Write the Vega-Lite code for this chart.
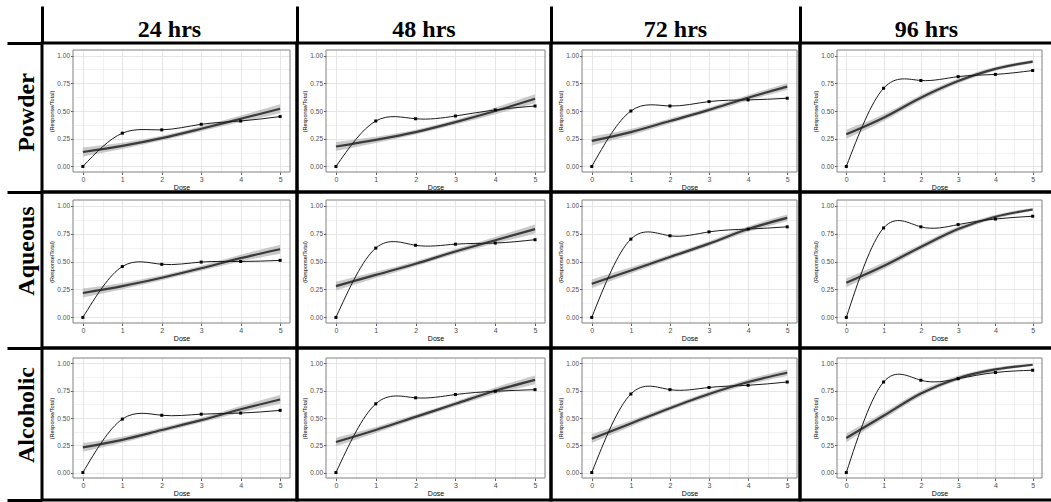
{
"$schema":"https://vega.github.io/schema/vega-lite/v6.json",
"padding":{"left":7,"top":6,"right":0,"bottom":0},
"background":"white",
"columns":5,"spacing":0,"align":"each","bounds":"flush",
"datasets":{"d":[
{"prep":"Powder","time":"24 hrs","dose":0,"p":0,"fit":0.13,"lo":0.09,"hi":0.17},
{"prep":"Powder","time":"24 hrs","dose":1,"p":0.30,"fit":0.185,"lo":0.157,"hi":0.213},
{"prep":"Powder","time":"24 hrs","dose":2,"p":0.33,"fit":0.255,"lo":0.233,"hi":0.277},
{"prep":"Powder","time":"24 hrs","dose":3,"p":0.38,"fit":0.34,"lo":0.318,"hi":0.362},
{"prep":"Powder","time":"24 hrs","dose":4,"p":0.41,"fit":0.43,"lo":0.40,"hi":0.46},
{"prep":"Powder","time":"24 hrs","dose":5,"p":0.45,"fit":0.52,"lo":0.48,"hi":0.56},
{"prep":"Powder","time":"48 hrs","dose":0,"p":0,"fit":0.18,"lo":0.14,"hi":0.22},
{"prep":"Powder","time":"48 hrs","dose":1,"p":0.41,"fit":0.24,"lo":0.212,"hi":0.268},
{"prep":"Powder","time":"48 hrs","dose":2,"p":0.43,"fit":0.31,"lo":0.288,"hi":0.332},
{"prep":"Powder","time":"48 hrs","dose":3,"p":0.455,"fit":0.40,"lo":0.378,"hi":0.422},
{"prep":"Powder","time":"48 hrs","dose":4,"p":0.51,"fit":0.50,"lo":0.47,"hi":0.53},
{"prep":"Powder","time":"48 hrs","dose":5,"p":0.545,"fit":0.61,"lo":0.57,"hi":0.65},
{"prep":"Powder","time":"72 hrs","dose":0,"p":0,"fit":0.23,"lo":0.19,"hi":0.27},
{"prep":"Powder","time":"72 hrs","dose":1,"p":0.50,"fit":0.31,"lo":0.282,"hi":0.338},
{"prep":"Powder","time":"72 hrs","dose":2,"p":0.545,"fit":0.41,"lo":0.388,"hi":0.432},
{"prep":"Powder","time":"72 hrs","dose":3,"p":0.585,"fit":0.51,"lo":0.488,"hi":0.532},
{"prep":"Powder","time":"72 hrs","dose":4,"p":0.60,"fit":0.62,"lo":0.595,"hi":0.645},
{"prep":"Powder","time":"72 hrs","dose":5,"p":0.615,"fit":0.72,"lo":0.69,"hi":0.75},
{"prep":"Powder","time":"96 hrs","dose":0,"p":0,"fit":0.29,"lo":0.25,"hi":0.33},
{"prep":"Powder","time":"96 hrs","dose":1,"p":0.705,"fit":0.44,"lo":0.41,"hi":0.47},
{"prep":"Powder","time":"96 hrs","dose":2,"p":0.775,"fit":0.62,"lo":0.595,"hi":0.645},
{"prep":"Powder","time":"96 hrs","dose":3,"p":0.81,"fit":0.77,"lo":0.748,"hi":0.792},
{"prep":"Powder","time":"96 hrs","dose":4,"p":0.83,"fit":0.88,"lo":0.862,"hi":0.898},
{"prep":"Powder","time":"96 hrs","dose":5,"p":0.865,"fit":0.945,"lo":0.931,"hi":0.959},
{"prep":"Aqueous","time":"24 hrs","dose":0,"p":0,"fit":0.218,"lo":0.178,"hi":0.258},
{"prep":"Aqueous","time":"24 hrs","dose":1,"p":0.455,"fit":0.28,"lo":0.252,"hi":0.308},
{"prep":"Aqueous","time":"24 hrs","dose":2,"p":0.475,"fit":0.355,"lo":0.333,"hi":0.377},
{"prep":"Aqueous","time":"24 hrs","dose":3,"p":0.495,"fit":0.44,"lo":0.418,"hi":0.462},
{"prep":"Aqueous","time":"24 hrs","dose":4,"p":0.50,"fit":0.53,"lo":0.50,"hi":0.56},
{"prep":"Aqueous","time":"24 hrs","dose":5,"p":0.51,"fit":0.61,"lo":0.57,"hi":0.65},
{"prep":"Aqueous","time":"48 hrs","dose":0,"p":0,"fit":0.28,"lo":0.24,"hi":0.32},
{"prep":"Aqueous","time":"48 hrs","dose":1,"p":0.62,"fit":0.38,"lo":0.352,"hi":0.408},
{"prep":"Aqueous","time":"48 hrs","dose":2,"p":0.645,"fit":0.48,"lo":0.458,"hi":0.502},
{"prep":"Aqueous","time":"48 hrs","dose":3,"p":0.655,"fit":0.59,"lo":0.568,"hi":0.612},
{"prep":"Aqueous","time":"48 hrs","dose":4,"p":0.665,"fit":0.69,"lo":0.66,"hi":0.72},
{"prep":"Aqueous","time":"48 hrs","dose":5,"p":0.695,"fit":0.79,"lo":0.75,"hi":0.83},
{"prep":"Aqueous","time":"72 hrs","dose":0,"p":0,"fit":0.30,"lo":0.26,"hi":0.34},
{"prep":"Aqueous","time":"72 hrs","dose":1,"p":0.70,"fit":0.42,"lo":0.392,"hi":0.448},
{"prep":"Aqueous","time":"72 hrs","dose":2,"p":0.73,"fit":0.54,"lo":0.518,"hi":0.562},
{"prep":"Aqueous","time":"72 hrs","dose":3,"p":0.765,"fit":0.66,"lo":0.638,"hi":0.682},
{"prep":"Aqueous","time":"72 hrs","dose":4,"p":0.79,"fit":0.79,"lo":0.765,"hi":0.815},
{"prep":"Aqueous","time":"72 hrs","dose":5,"p":0.81,"fit":0.89,"lo":0.86,"hi":0.92},
{"prep":"Aqueous","time":"96 hrs","dose":0,"p":0,"fit":0.31,"lo":0.27,"hi":0.35},
{"prep":"Aqueous","time":"96 hrs","dose":1,"p":0.80,"fit":0.46,"lo":0.43,"hi":0.49},
{"prep":"Aqueous","time":"96 hrs","dose":2,"p":0.81,"fit":0.63,"lo":0.605,"hi":0.655},
{"prep":"Aqueous","time":"96 hrs","dose":3,"p":0.83,"fit":0.79,"lo":0.768,"hi":0.812},
{"prep":"Aqueous","time":"96 hrs","dose":4,"p":0.88,"fit":0.90,"lo":0.882,"hi":0.918},
{"prep":"Aqueous","time":"96 hrs","dose":5,"p":0.905,"fit":0.965,"lo":0.951,"hi":0.979},
{"prep":"Alcoholic","time":"24 hrs","dose":0,"p":0,"fit":0.23,"lo":0.19,"hi":0.27},
{"prep":"Alcoholic","time":"24 hrs","dose":1,"p":0.49,"fit":0.30,"lo":0.272,"hi":0.328},
{"prep":"Alcoholic","time":"24 hrs","dose":2,"p":0.525,"fit":0.39,"lo":0.368,"hi":0.412},
{"prep":"Alcoholic","time":"24 hrs","dose":3,"p":0.535,"fit":0.48,"lo":0.458,"hi":0.502},
{"prep":"Alcoholic","time":"24 hrs","dose":4,"p":0.545,"fit":0.58,"lo":0.55,"hi":0.61},
{"prep":"Alcoholic","time":"24 hrs","dose":5,"p":0.57,"fit":0.67,"lo":0.63,"hi":0.71},
{"prep":"Alcoholic","time":"48 hrs","dose":0,"p":0,"fit":0.28,"lo":0.24,"hi":0.32},
{"prep":"Alcoholic","time":"48 hrs","dose":1,"p":0.63,"fit":0.39,"lo":0.362,"hi":0.418},
{"prep":"Alcoholic","time":"48 hrs","dose":2,"p":0.685,"fit":0.51,"lo":0.488,"hi":0.532},
{"prep":"Alcoholic","time":"48 hrs","dose":3,"p":0.715,"fit":0.63,"lo":0.608,"hi":0.652},
{"prep":"Alcoholic","time":"48 hrs","dose":4,"p":0.745,"fit":0.75,"lo":0.72,"hi":0.78},
{"prep":"Alcoholic","time":"48 hrs","dose":5,"p":0.76,"fit":0.85,"lo":0.81,"hi":0.89},
{"prep":"Alcoholic","time":"72 hrs","dose":0,"p":0,"fit":0.31,"lo":0.27,"hi":0.35},
{"prep":"Alcoholic","time":"72 hrs","dose":1,"p":0.72,"fit":0.45,"lo":0.422,"hi":0.478},
{"prep":"Alcoholic","time":"72 hrs","dose":2,"p":0.76,"fit":0.59,"lo":0.568,"hi":0.612},
{"prep":"Alcoholic","time":"72 hrs","dose":3,"p":0.78,"fit":0.72,"lo":0.698,"hi":0.742},
{"prep":"Alcoholic","time":"72 hrs","dose":4,"p":0.80,"fit":0.83,"lo":0.805,"hi":0.855},
{"prep":"Alcoholic","time":"72 hrs","dose":5,"p":0.83,"fit":0.915,"lo":0.885,"hi":0.945},
{"prep":"Alcoholic","time":"96 hrs","dose":0,"p":0,"fit":0.317,"lo":0.277,"hi":0.357},
{"prep":"Alcoholic","time":"96 hrs","dose":1,"p":0.83,"fit":0.52,"lo":0.49,"hi":0.55},
{"prep":"Alcoholic","time":"96 hrs","dose":2,"p":0.846,"fit":0.725,"lo":0.70,"hi":0.75},
{"prep":"Alcoholic","time":"96 hrs","dose":3,"p":0.86,"fit":0.865,"lo":0.843,"hi":0.887},
{"prep":"Alcoholic","time":"96 hrs","dose":4,"p":0.917,"fit":0.945,"lo":0.927,"hi":0.963},
{"prep":"Alcoholic","time":"96 hrs","dose":5,"p":0.938,"fit":0.988,"lo":0.976,"hi":0.998}
]},
"concat":[
{"width":35,"height":37,"data":{"values":[{"t":"c"}]},"mark":{"type":"text","text":""},"encoding":{"x":{"field":"t","type":"nominal","axis":{"orient":"bottom","domain":true,"domainColor":"#000000","domainWidth":3,"ticks":false,"labels":false,"title":null,"grid":false}}}},
{"width":255,"height":37,"data":{"values":[{"t":"24 hrs"}]},"mark":{"type":"text","font":"Liberation Serif","fontSize":24,"fontWeight":"bold","color":"#000000","baseline":"alphabetic","dy":12.5},"encoding":{"text":{"field":"t"},"y":{"field":"t","type":"nominal","axis":{"orient":"left","domain":true,"domainColor":"#000000","domainWidth":3,"ticks":false,"labels":false,"title":null,"grid":false}}}},
{"width":254,"height":37,"data":{"values":[{"t":"48 hrs"}]},"mark":{"type":"text","font":"Liberation Serif","fontSize":24,"fontWeight":"bold","color":"#000000","baseline":"alphabetic","dy":12.5},"encoding":{"text":{"field":"t"},"y":{"field":"t","type":"nominal","axis":{"orient":"left","domain":true,"domainColor":"#000000","domainWidth":3,"ticks":false,"labels":false,"title":null,"grid":false}}}},
{"width":249,"height":37,"data":{"values":[{"t":"72 hrs"}]},"mark":{"type":"text","font":"Liberation Serif","fontSize":24,"fontWeight":"bold","color":"#000000","baseline":"alphabetic","dy":12.5},"encoding":{"text":{"field":"t"},"y":{"field":"t","type":"nominal","axis":{"orient":"left","domain":true,"domainColor":"#000000","domainWidth":3,"ticks":false,"labels":false,"title":null,"grid":false}}}},
{"width":253,"height":37,"data":{"values":[{"t":"96 hrs"}]},"mark":{"type":"text","font":"Liberation Serif","fontSize":24,"fontWeight":"bold","color":"#000000","baseline":"alphabetic","dy":12.5},"encoding":{"text":{"field":"t"},"y":{"field":"t","type":"nominal","axis":{"orient":"left","domain":true,"domainColor":"#000000","domainWidth":3,"ticks":false,"labels":false,"title":null,"grid":false}}}},

{"width":35,"height":149,"data":{"values":[{"t":"Powder"}]},"mark":{"type":"text","angle":270,"font":"Liberation Serif","fontSize":24,"fontWeight":"bold","color":"#000000","baseline":"middle","dx":5,"dy":2},"encoding":{"text":{"field":"t"},"x":{"field":"t","type":"nominal","axis":{"orient":"bottom","domain":true,"domainColor":"#000000","domainWidth":3,"ticks":false,"labels":false,"title":null,"grid":false}}}},
{"width":255,"height":149,"view":{"stroke":"black","strokeWidth":3},"data":{"name":"d"},"transform":[{"filter":"datum.prep==='Powder'&&datum.time==='24 hrs'"}],"resolve":{"axis":{"x":"independent","y":"independent"}},"layer":[
{"mark":{"type":"area","interpolate":"monotone","color":"#b4b4b4","opacity":0.7},"encoding":{"x":{"field":"dose","type":"quantitative","scale":{"domain":[-0.25,5.25],"range":[31,248],"nice":false,"zero":false},"axis":{"orient":"bottom","offset":-20,"values":[0,1,2,3,4,5],"grid":false,"domain":false,"tickSize":2.5,"tickColor":"#333333","tickWidth":0.8,"labelFontSize":7,"labelColor":"#4d4d4d","labelPadding":1,"labelFlush":false,"labelOverlap":false,"title":"Dose","titleFontSize":7,"titleFontWeight":"normal","titleColor":"#000000","titlePadding":1}},"y":{"field":"lo","type":"quantitative","scale":{"domain":[-0.05,1.05],"range":[129,7],"nice":false,"zero":false},"axis":{"orient":"left","offset":-31,"values":[0,0.125,0.25,0.375,0.5,0.625,0.75,0.875,1],"grid":true,"gridColor":"#e3e3e3","gridWidth":{"condition":{"test":"(datum.value*8)%2!==0","value":0.5},"value":0.9},"domain":false,"tickSize":2.5,"tickColor":"#333333","tickWidth":0.8,"tickOpacity":{"condition":{"test":"(datum.value*8)%2!==0","value":0},"value":1},"labelExpr":"(datum.value*8)%2===0?format(datum.value,'.2f'):''","labelFontSize":6.5,"labelColor":"#4d4d4d","labelPadding":1,"labelFlush":false,"labelOverlap":false,"title":"(Response/Total)","titleFontSize":5.5,"titleFontWeight":"normal","titleColor":"#000000","titlePadding":2}},"y2":{"field":"hi"}}},
{"mark":{"type":"line","interpolate":"monotone","color":"#3a3a3a","strokeWidth":2.2},"encoding":{"x":{"field":"dose","type":"quantitative","axis":{"orient":"top","values":[0,0.5,1,1.5,2,2.5,3,3.5,4,4.5,5],"grid":true,"gridColor":"#e3e3e3","gridWidth":{"condition":{"test":"datum.value%1!==0","value":0.5},"value":0.9},"domain":false,"ticks":false,"labels":false,"title":null}},"y":{"field":"fit","type":"quantitative","axis":null}}},
{"mark":{"type":"line","interpolate":"natural","color":"#1a1a1a","strokeWidth":1},"encoding":{"x":{"field":"dose","type":"quantitative","axis":null},"y":{"field":"p","type":"quantitative","axis":null}}},
{"mark":{"type":"point","shape":"square","filled":true,"size":9,"color":"#000000","opacity":1},"encoding":{"x":{"field":"dose","type":"quantitative","axis":null},"y":{"field":"p","type":"quantitative","axis":null}}},
{"data":{"values":[{}]},"mark":{"type":"rect","filled":false,"color":"#808080","strokeWidth":1},"encoding":{"x":{"datum":-0.25,"type":"quantitative","axis":null},"x2":{"datum":5.25},"y":{"datum":-0.05,"type":"quantitative","axis":null},"y2":{"datum":1.05}}}
]},
{"width":254,"height":149,"view":{"stroke":"black","strokeWidth":3},"data":{"name":"d"},"transform":[{"filter":"datum.prep==='Powder'&&datum.time==='48 hrs'"}],"resolve":{"axis":{"x":"independent","y":"independent"}},"layer":[
{"mark":{"type":"area","interpolate":"monotone","color":"#b4b4b4","opacity":0.7},"encoding":{"x":{"field":"dose","type":"quantitative","scale":{"domain":[-0.25,5.25],"range":[29,248],"nice":false,"zero":false},"axis":{"orient":"bottom","offset":-20,"values":[0,1,2,3,4,5],"grid":false,"domain":false,"tickSize":2.5,"tickColor":"#333333","tickWidth":0.8,"labelFontSize":7,"labelColor":"#4d4d4d","labelPadding":1,"labelFlush":false,"labelOverlap":false,"title":"Dose","titleFontSize":7,"titleFontWeight":"normal","titleColor":"#000000","titlePadding":1}},"y":{"field":"lo","type":"quantitative","scale":{"domain":[-0.05,1.05],"range":[129,7],"nice":false,"zero":false},"axis":{"orient":"left","offset":-29,"values":[0,0.125,0.25,0.375,0.5,0.625,0.75,0.875,1],"grid":true,"gridColor":"#e3e3e3","gridWidth":{"condition":{"test":"(datum.value*8)%2!==0","value":0.5},"value":0.9},"domain":false,"tickSize":2.5,"tickColor":"#333333","tickWidth":0.8,"tickOpacity":{"condition":{"test":"(datum.value*8)%2!==0","value":0},"value":1},"labelExpr":"(datum.value*8)%2===0?format(datum.value,'.2f'):''","labelFontSize":6.5,"labelColor":"#4d4d4d","labelPadding":1,"labelFlush":false,"labelOverlap":false,"title":"(Response/Total)","titleFontSize":5.5,"titleFontWeight":"normal","titleColor":"#000000","titlePadding":2}},"y2":{"field":"hi"}}},
{"mark":{"type":"line","interpolate":"monotone","color":"#3a3a3a","strokeWidth":2.2},"encoding":{"x":{"field":"dose","type":"quantitative","axis":{"orient":"top","values":[0,0.5,1,1.5,2,2.5,3,3.5,4,4.5,5],"grid":true,"gridColor":"#e3e3e3","gridWidth":{"condition":{"test":"datum.value%1!==0","value":0.5},"value":0.9},"domain":false,"ticks":false,"labels":false,"title":null}},"y":{"field":"fit","type":"quantitative","axis":null}}},
{"mark":{"type":"line","interpolate":"natural","color":"#1a1a1a","strokeWidth":1},"encoding":{"x":{"field":"dose","type":"quantitative","axis":null},"y":{"field":"p","type":"quantitative","axis":null}}},
{"mark":{"type":"point","shape":"square","filled":true,"size":9,"color":"#000000","opacity":1},"encoding":{"x":{"field":"dose","type":"quantitative","axis":null},"y":{"field":"p","type":"quantitative","axis":null}}},
{"data":{"values":[{}]},"mark":{"type":"rect","filled":false,"color":"#808080","strokeWidth":1},"encoding":{"x":{"datum":-0.25,"type":"quantitative","axis":null},"x2":{"datum":5.25},"y":{"datum":-0.05,"type":"quantitative","axis":null},"y2":{"datum":1.05}}}
]},
{"width":249,"height":149,"view":{"stroke":"black","strokeWidth":3},"data":{"name":"d"},"transform":[{"filter":"datum.prep==='Powder'&&datum.time==='72 hrs'"}],"resolve":{"axis":{"x":"independent","y":"independent"}},"layer":[
{"mark":{"type":"area","interpolate":"monotone","color":"#b4b4b4","opacity":0.7},"encoding":{"x":{"field":"dose","type":"quantitative","scale":{"domain":[-0.25,5.25],"range":[31,246],"nice":false,"zero":false},"axis":{"orient":"bottom","offset":-20,"values":[0,1,2,3,4,5],"grid":false,"domain":false,"tickSize":2.5,"tickColor":"#333333","tickWidth":0.8,"labelFontSize":7,"labelColor":"#4d4d4d","labelPadding":1,"labelFlush":false,"labelOverlap":false,"title":"Dose","titleFontSize":7,"titleFontWeight":"normal","titleColor":"#000000","titlePadding":1}},"y":{"field":"lo","type":"quantitative","scale":{"domain":[-0.05,1.05],"range":[129,7],"nice":false,"zero":false},"axis":{"orient":"left","offset":-31,"values":[0,0.125,0.25,0.375,0.5,0.625,0.75,0.875,1],"grid":true,"gridColor":"#e3e3e3","gridWidth":{"condition":{"test":"(datum.value*8)%2!==0","value":0.5},"value":0.9},"domain":false,"tickSize":2.5,"tickColor":"#333333","tickWidth":0.8,"tickOpacity":{"condition":{"test":"(datum.value*8)%2!==0","value":0},"value":1},"labelExpr":"(datum.value*8)%2===0?format(datum.value,'.2f'):''","labelFontSize":6.5,"labelColor":"#4d4d4d","labelPadding":1,"labelFlush":false,"labelOverlap":false,"title":"(Response/Total)","titleFontSize":5.5,"titleFontWeight":"normal","titleColor":"#000000","titlePadding":2}},"y2":{"field":"hi"}}},
{"mark":{"type":"line","interpolate":"monotone","color":"#3a3a3a","strokeWidth":2.2},"encoding":{"x":{"field":"dose","type":"quantitative","axis":{"orient":"top","values":[0,0.5,1,1.5,2,2.5,3,3.5,4,4.5,5],"grid":true,"gridColor":"#e3e3e3","gridWidth":{"condition":{"test":"datum.value%1!==0","value":0.5},"value":0.9},"domain":false,"ticks":false,"labels":false,"title":null}},"y":{"field":"fit","type":"quantitative","axis":null}}},
{"mark":{"type":"line","interpolate":"natural","color":"#1a1a1a","strokeWidth":1},"encoding":{"x":{"field":"dose","type":"quantitative","axis":null},"y":{"field":"p","type":"quantitative","axis":null}}},
{"mark":{"type":"point","shape":"square","filled":true,"size":9,"color":"#000000","opacity":1},"encoding":{"x":{"field":"dose","type":"quantitative","axis":null},"y":{"field":"p","type":"quantitative","axis":null}}},
{"data":{"values":[{}]},"mark":{"type":"rect","filled":false,"color":"#808080","strokeWidth":1},"encoding":{"x":{"datum":-0.25,"type":"quantitative","axis":null},"x2":{"datum":5.25},"y":{"datum":-0.05,"type":"quantitative","axis":null},"y2":{"datum":1.05}}}
]},
{"width":253,"height":149,"view":{"stroke":"black","strokeWidth":3},"data":{"name":"d"},"transform":[{"filter":"datum.prep==='Powder'&&datum.time==='96 hrs'"}],"resolve":{"axis":{"x":"independent","y":"independent"}},"layer":[
{"mark":{"type":"area","interpolate":"monotone","color":"#b4b4b4","opacity":0.7},"encoding":{"x":{"field":"dose","type":"quantitative","scale":{"domain":[-0.25,5.25],"range":[37,242],"nice":false,"zero":false},"axis":{"orient":"bottom","offset":-20,"values":[0,1,2,3,4,5],"grid":false,"domain":false,"tickSize":2.5,"tickColor":"#333333","tickWidth":0.8,"labelFontSize":7,"labelColor":"#4d4d4d","labelPadding":1,"labelFlush":false,"labelOverlap":false,"title":"Dose","titleFontSize":7,"titleFontWeight":"normal","titleColor":"#000000","titlePadding":1}},"y":{"field":"lo","type":"quantitative","scale":{"domain":[-0.05,1.05],"range":[129,7],"nice":false,"zero":false},"axis":{"orient":"left","offset":-37,"values":[0,0.125,0.25,0.375,0.5,0.625,0.75,0.875,1],"grid":true,"gridColor":"#e3e3e3","gridWidth":{"condition":{"test":"(datum.value*8)%2!==0","value":0.5},"value":0.9},"domain":false,"tickSize":2.5,"tickColor":"#333333","tickWidth":0.8,"tickOpacity":{"condition":{"test":"(datum.value*8)%2!==0","value":0},"value":1},"labelExpr":"(datum.value*8)%2===0?format(datum.value,'.2f'):''","labelFontSize":6.5,"labelColor":"#4d4d4d","labelPadding":1,"labelFlush":false,"labelOverlap":false,"title":"(Response/Total)","titleFontSize":5.5,"titleFontWeight":"normal","titleColor":"#000000","titlePadding":2}},"y2":{"field":"hi"}}},
{"mark":{"type":"line","interpolate":"monotone","color":"#3a3a3a","strokeWidth":2.2},"encoding":{"x":{"field":"dose","type":"quantitative","axis":{"orient":"top","values":[0,0.5,1,1.5,2,2.5,3,3.5,4,4.5,5],"grid":true,"gridColor":"#e3e3e3","gridWidth":{"condition":{"test":"datum.value%1!==0","value":0.5},"value":0.9},"domain":false,"ticks":false,"labels":false,"title":null}},"y":{"field":"fit","type":"quantitative","axis":null}}},
{"mark":{"type":"line","interpolate":"natural","color":"#1a1a1a","strokeWidth":1},"encoding":{"x":{"field":"dose","type":"quantitative","axis":null},"y":{"field":"p","type":"quantitative","axis":null}}},
{"mark":{"type":"point","shape":"square","filled":true,"size":9,"color":"#000000","opacity":1},"encoding":{"x":{"field":"dose","type":"quantitative","axis":null},"y":{"field":"p","type":"quantitative","axis":null}}},
{"data":{"values":[{}]},"mark":{"type":"rect","filled":false,"color":"#808080","strokeWidth":1},"encoding":{"x":{"datum":-0.25,"type":"quantitative","axis":null},"x2":{"datum":5.25},"y":{"datum":-0.05,"type":"quantitative","axis":null},"y2":{"datum":1.05}}}
]},

{"width":35,"height":156,"data":{"values":[{"t":"Aqueous"}]},"mark":{"type":"text","angle":270,"font":"Liberation Serif","fontSize":24,"fontWeight":"bold","color":"#000000","baseline":"middle","dx":19,"dy":2},"encoding":{"text":{"field":"t"},"x":{"field":"t","type":"nominal","axis":{"orient":"bottom","domain":true,"domainColor":"#000000","domainWidth":3,"ticks":false,"labels":false,"title":null,"grid":false}}}},
{"width":255,"height":156,"view":{"stroke":"black","strokeWidth":3},"data":{"name":"d"},"transform":[{"filter":"datum.prep==='Aqueous'&&datum.time==='24 hrs'"}],"resolve":{"axis":{"x":"independent","y":"independent"}},"layer":[
{"mark":{"type":"area","interpolate":"monotone","color":"#b4b4b4","opacity":0.7},"encoding":{"x":{"field":"dose","type":"quantitative","scale":{"domain":[-0.25,5.25],"range":[31,248],"nice":false,"zero":false},"axis":{"orient":"bottom","offset":-25,"values":[0,1,2,3,4,5],"grid":false,"domain":false,"tickSize":2.5,"tickColor":"#333333","tickWidth":0.8,"labelFontSize":7,"labelColor":"#4d4d4d","labelPadding":1,"labelFlush":false,"labelOverlap":false,"title":"Dose","titleFontSize":7,"titleFontWeight":"normal","titleColor":"#000000","titlePadding":1}},"y":{"field":"lo","type":"quantitative","scale":{"domain":[-0.05,1.05],"range":[131,8],"nice":false,"zero":false},"axis":{"orient":"left","offset":-31,"values":[0,0.125,0.25,0.375,0.5,0.625,0.75,0.875,1],"grid":true,"gridColor":"#e3e3e3","gridWidth":{"condition":{"test":"(datum.value*8)%2!==0","value":0.5},"value":0.9},"domain":false,"tickSize":2.5,"tickColor":"#333333","tickWidth":0.8,"tickOpacity":{"condition":{"test":"(datum.value*8)%2!==0","value":0},"value":1},"labelExpr":"(datum.value*8)%2===0?format(datum.value,'.2f'):''","labelFontSize":6.5,"labelColor":"#4d4d4d","labelPadding":1,"labelFlush":false,"labelOverlap":false,"title":"(Response/Total)","titleFontSize":5.5,"titleFontWeight":"normal","titleColor":"#000000","titlePadding":2}},"y2":{"field":"hi"}}},
{"mark":{"type":"line","interpolate":"monotone","color":"#3a3a3a","strokeWidth":2.2},"encoding":{"x":{"field":"dose","type":"quantitative","axis":{"orient":"top","values":[0,0.5,1,1.5,2,2.5,3,3.5,4,4.5,5],"grid":true,"gridColor":"#e3e3e3","gridWidth":{"condition":{"test":"datum.value%1!==0","value":0.5},"value":0.9},"domain":false,"ticks":false,"labels":false,"title":null}},"y":{"field":"fit","type":"quantitative","axis":null}}},
{"mark":{"type":"line","interpolate":"natural","color":"#1a1a1a","strokeWidth":1},"encoding":{"x":{"field":"dose","type":"quantitative","axis":null},"y":{"field":"p","type":"quantitative","axis":null}}},
{"mark":{"type":"point","shape":"square","filled":true,"size":9,"color":"#000000","opacity":1},"encoding":{"x":{"field":"dose","type":"quantitative","axis":null},"y":{"field":"p","type":"quantitative","axis":null}}},
{"data":{"values":[{}]},"mark":{"type":"rect","filled":false,"color":"#808080","strokeWidth":1},"encoding":{"x":{"datum":-0.25,"type":"quantitative","axis":null},"x2":{"datum":5.25},"y":{"datum":-0.05,"type":"quantitative","axis":null},"y2":{"datum":1.05}}}
]},
{"width":254,"height":156,"view":{"stroke":"black","strokeWidth":3},"data":{"name":"d"},"transform":[{"filter":"datum.prep==='Aqueous'&&datum.time==='48 hrs'"}],"resolve":{"axis":{"x":"independent","y":"independent"}},"layer":[
{"mark":{"type":"area","interpolate":"monotone","color":"#b4b4b4","opacity":0.7},"encoding":{"x":{"field":"dose","type":"quantitative","scale":{"domain":[-0.25,5.25],"range":[29,248],"nice":false,"zero":false},"axis":{"orient":"bottom","offset":-25,"values":[0,1,2,3,4,5],"grid":false,"domain":false,"tickSize":2.5,"tickColor":"#333333","tickWidth":0.8,"labelFontSize":7,"labelColor":"#4d4d4d","labelPadding":1,"labelFlush":false,"labelOverlap":false,"title":"Dose","titleFontSize":7,"titleFontWeight":"normal","titleColor":"#000000","titlePadding":1}},"y":{"field":"lo","type":"quantitative","scale":{"domain":[-0.05,1.05],"range":[131,8],"nice":false,"zero":false},"axis":{"orient":"left","offset":-29,"values":[0,0.125,0.25,0.375,0.5,0.625,0.75,0.875,1],"grid":true,"gridColor":"#e3e3e3","gridWidth":{"condition":{"test":"(datum.value*8)%2!==0","value":0.5},"value":0.9},"domain":false,"tickSize":2.5,"tickColor":"#333333","tickWidth":0.8,"tickOpacity":{"condition":{"test":"(datum.value*8)%2!==0","value":0},"value":1},"labelExpr":"(datum.value*8)%2===0?format(datum.value,'.2f'):''","labelFontSize":6.5,"labelColor":"#4d4d4d","labelPadding":1,"labelFlush":false,"labelOverlap":false,"title":"(Response/Total)","titleFontSize":5.5,"titleFontWeight":"normal","titleColor":"#000000","titlePadding":2}},"y2":{"field":"hi"}}},
{"mark":{"type":"line","interpolate":"monotone","color":"#3a3a3a","strokeWidth":2.2},"encoding":{"x":{"field":"dose","type":"quantitative","axis":{"orient":"top","values":[0,0.5,1,1.5,2,2.5,3,3.5,4,4.5,5],"grid":true,"gridColor":"#e3e3e3","gridWidth":{"condition":{"test":"datum.value%1!==0","value":0.5},"value":0.9},"domain":false,"ticks":false,"labels":false,"title":null}},"y":{"field":"fit","type":"quantitative","axis":null}}},
{"mark":{"type":"line","interpolate":"natural","color":"#1a1a1a","strokeWidth":1},"encoding":{"x":{"field":"dose","type":"quantitative","axis":null},"y":{"field":"p","type":"quantitative","axis":null}}},
{"mark":{"type":"point","shape":"square","filled":true,"size":9,"color":"#000000","opacity":1},"encoding":{"x":{"field":"dose","type":"quantitative","axis":null},"y":{"field":"p","type":"quantitative","axis":null}}},
{"data":{"values":[{}]},"mark":{"type":"rect","filled":false,"color":"#808080","strokeWidth":1},"encoding":{"x":{"datum":-0.25,"type":"quantitative","axis":null},"x2":{"datum":5.25},"y":{"datum":-0.05,"type":"quantitative","axis":null},"y2":{"datum":1.05}}}
]},
{"width":249,"height":156,"view":{"stroke":"black","strokeWidth":3},"data":{"name":"d"},"transform":[{"filter":"datum.prep==='Aqueous'&&datum.time==='72 hrs'"}],"resolve":{"axis":{"x":"independent","y":"independent"}},"layer":[
{"mark":{"type":"area","interpolate":"monotone","color":"#b4b4b4","opacity":0.7},"encoding":{"x":{"field":"dose","type":"quantitative","scale":{"domain":[-0.25,5.25],"range":[31,246],"nice":false,"zero":false},"axis":{"orient":"bottom","offset":-25,"values":[0,1,2,3,4,5],"grid":false,"domain":false,"tickSize":2.5,"tickColor":"#333333","tickWidth":0.8,"labelFontSize":7,"labelColor":"#4d4d4d","labelPadding":1,"labelFlush":false,"labelOverlap":false,"title":"Dose","titleFontSize":7,"titleFontWeight":"normal","titleColor":"#000000","titlePadding":1}},"y":{"field":"lo","type":"quantitative","scale":{"domain":[-0.05,1.05],"range":[131,8],"nice":false,"zero":false},"axis":{"orient":"left","offset":-31,"values":[0,0.125,0.25,0.375,0.5,0.625,0.75,0.875,1],"grid":true,"gridColor":"#e3e3e3","gridWidth":{"condition":{"test":"(datum.value*8)%2!==0","value":0.5},"value":0.9},"domain":false,"tickSize":2.5,"tickColor":"#333333","tickWidth":0.8,"tickOpacity":{"condition":{"test":"(datum.value*8)%2!==0","value":0},"value":1},"labelExpr":"(datum.value*8)%2===0?format(datum.value,'.2f'):''","labelFontSize":6.5,"labelColor":"#4d4d4d","labelPadding":1,"labelFlush":false,"labelOverlap":false,"title":"(Response/Total)","titleFontSize":5.5,"titleFontWeight":"normal","titleColor":"#000000","titlePadding":2}},"y2":{"field":"hi"}}},
{"mark":{"type":"line","interpolate":"monotone","color":"#3a3a3a","strokeWidth":2.2},"encoding":{"x":{"field":"dose","type":"quantitative","axis":{"orient":"top","values":[0,0.5,1,1.5,2,2.5,3,3.5,4,4.5,5],"grid":true,"gridColor":"#e3e3e3","gridWidth":{"condition":{"test":"datum.value%1!==0","value":0.5},"value":0.9},"domain":false,"ticks":false,"labels":false,"title":null}},"y":{"field":"fit","type":"quantitative","axis":null}}},
{"mark":{"type":"line","interpolate":"natural","color":"#1a1a1a","strokeWidth":1},"encoding":{"x":{"field":"dose","type":"quantitative","axis":null},"y":{"field":"p","type":"quantitative","axis":null}}},
{"mark":{"type":"point","shape":"square","filled":true,"size":9,"color":"#000000","opacity":1},"encoding":{"x":{"field":"dose","type":"quantitative","axis":null},"y":{"field":"p","type":"quantitative","axis":null}}},
{"data":{"values":[{}]},"mark":{"type":"rect","filled":false,"color":"#808080","strokeWidth":1},"encoding":{"x":{"datum":-0.25,"type":"quantitative","axis":null},"x2":{"datum":5.25},"y":{"datum":-0.05,"type":"quantitative","axis":null},"y2":{"datum":1.05}}}
]},
{"width":253,"height":156,"view":{"stroke":"black","strokeWidth":3},"data":{"name":"d"},"transform":[{"filter":"datum.prep==='Aqueous'&&datum.time==='96 hrs'"}],"resolve":{"axis":{"x":"independent","y":"independent"}},"layer":[
{"mark":{"type":"area","interpolate":"monotone","color":"#b4b4b4","opacity":0.7},"encoding":{"x":{"field":"dose","type":"quantitative","scale":{"domain":[-0.25,5.25],"range":[37,242],"nice":false,"zero":false},"axis":{"orient":"bottom","offset":-25,"values":[0,1,2,3,4,5],"grid":false,"domain":false,"tickSize":2.5,"tickColor":"#333333","tickWidth":0.8,"labelFontSize":7,"labelColor":"#4d4d4d","labelPadding":1,"labelFlush":false,"labelOverlap":false,"title":"Dose","titleFontSize":7,"titleFontWeight":"normal","titleColor":"#000000","titlePadding":1}},"y":{"field":"lo","type":"quantitative","scale":{"domain":[-0.05,1.05],"range":[131,8],"nice":false,"zero":false},"axis":{"orient":"left","offset":-37,"values":[0,0.125,0.25,0.375,0.5,0.625,0.75,0.875,1],"grid":true,"gridColor":"#e3e3e3","gridWidth":{"condition":{"test":"(datum.value*8)%2!==0","value":0.5},"value":0.9},"domain":false,"tickSize":2.5,"tickColor":"#333333","tickWidth":0.8,"tickOpacity":{"condition":{"test":"(datum.value*8)%2!==0","value":0},"value":1},"labelExpr":"(datum.value*8)%2===0?format(datum.value,'.2f'):''","labelFontSize":6.5,"labelColor":"#4d4d4d","labelPadding":1,"labelFlush":false,"labelOverlap":false,"title":"(Response/Total)","titleFontSize":5.5,"titleFontWeight":"normal","titleColor":"#000000","titlePadding":2}},"y2":{"field":"hi"}}},
{"mark":{"type":"line","interpolate":"monotone","color":"#3a3a3a","strokeWidth":2.2},"encoding":{"x":{"field":"dose","type":"quantitative","axis":{"orient":"top","values":[0,0.5,1,1.5,2,2.5,3,3.5,4,4.5,5],"grid":true,"gridColor":"#e3e3e3","gridWidth":{"condition":{"test":"datum.value%1!==0","value":0.5},"value":0.9},"domain":false,"ticks":false,"labels":false,"title":null}},"y":{"field":"fit","type":"quantitative","axis":null}}},
{"mark":{"type":"line","interpolate":"natural","color":"#1a1a1a","strokeWidth":1},"encoding":{"x":{"field":"dose","type":"quantitative","axis":null},"y":{"field":"p","type":"quantitative","axis":null}}},
{"mark":{"type":"point","shape":"square","filled":true,"size":9,"color":"#000000","opacity":1},"encoding":{"x":{"field":"dose","type":"quantitative","axis":null},"y":{"field":"p","type":"quantitative","axis":null}}},
{"data":{"values":[{}]},"mark":{"type":"rect","filled":false,"color":"#808080","strokeWidth":1},"encoding":{"x":{"datum":-0.25,"type":"quantitative","axis":null},"x2":{"datum":5.25},"y":{"datum":-0.05,"type":"quantitative","axis":null},"y2":{"datum":1.05}}}
]},

{"width":35,"height":152,"data":{"values":[{"t":"Alcoholic"}]},"mark":{"type":"text","angle":270,"font":"Liberation Serif","fontSize":24,"fontWeight":"bold","color":"#000000","baseline":"middle","dx":9,"dy":2},"encoding":{"text":{"field":"t"},"x":{"field":"t","type":"nominal","axis":{"orient":"bottom","domain":true,"domainColor":"#000000","domainWidth":3,"ticks":false,"labels":false,"title":null,"grid":false}}}},
{"width":255,"height":152,"view":{"stroke":"black","strokeWidth":3},"data":{"name":"d"},"transform":[{"filter":"datum.prep==='Alcoholic'&&datum.time==='24 hrs'"}],"resolve":{"axis":{"x":"independent","y":"independent"}},"layer":[
{"mark":{"type":"area","interpolate":"monotone","color":"#b4b4b4","opacity":0.7},"encoding":{"x":{"field":"dose","type":"quantitative","scale":{"domain":[-0.25,5.25],"range":[31,248],"nice":false,"zero":false},"axis":{"orient":"bottom","offset":-22,"values":[0,1,2,3,4,5],"grid":false,"domain":false,"tickSize":2.5,"tickColor":"#333333","tickWidth":0.8,"labelFontSize":7,"labelColor":"#4d4d4d","labelPadding":1,"labelFlush":false,"labelOverlap":false,"title":"Dose","titleFontSize":7,"titleFontWeight":"normal","titleColor":"#000000","titlePadding":1}},"y":{"field":"lo","type":"quantitative","scale":{"domain":[-0.05,1.05],"range":[130,10],"nice":false,"zero":false},"axis":{"orient":"left","offset":-31,"values":[0,0.125,0.25,0.375,0.5,0.625,0.75,0.875,1],"grid":true,"gridColor":"#e3e3e3","gridWidth":{"condition":{"test":"(datum.value*8)%2!==0","value":0.5},"value":0.9},"domain":false,"tickSize":2.5,"tickColor":"#333333","tickWidth":0.8,"tickOpacity":{"condition":{"test":"(datum.value*8)%2!==0","value":0},"value":1},"labelExpr":"(datum.value*8)%2===0?format(datum.value,'.2f'):''","labelFontSize":6.5,"labelColor":"#4d4d4d","labelPadding":1,"labelFlush":false,"labelOverlap":false,"title":"(Response/Total)","titleFontSize":5.5,"titleFontWeight":"normal","titleColor":"#000000","titlePadding":2}},"y2":{"field":"hi"}}},
{"mark":{"type":"line","interpolate":"monotone","color":"#3a3a3a","strokeWidth":2.2},"encoding":{"x":{"field":"dose","type":"quantitative","axis":{"orient":"top","values":[0,0.5,1,1.5,2,2.5,3,3.5,4,4.5,5],"grid":true,"gridColor":"#e3e3e3","gridWidth":{"condition":{"test":"datum.value%1!==0","value":0.5},"value":0.9},"domain":false,"ticks":false,"labels":false,"title":null}},"y":{"field":"fit","type":"quantitative","axis":null}}},
{"mark":{"type":"line","interpolate":"natural","color":"#1a1a1a","strokeWidth":1},"encoding":{"x":{"field":"dose","type":"quantitative","axis":null},"y":{"field":"p","type":"quantitative","axis":null}}},
{"mark":{"type":"point","shape":"square","filled":true,"size":9,"color":"#000000","opacity":1},"encoding":{"x":{"field":"dose","type":"quantitative","axis":null},"y":{"field":"p","type":"quantitative","axis":null}}},
{"data":{"values":[{}]},"mark":{"type":"rect","filled":false,"color":"#808080","strokeWidth":1},"encoding":{"x":{"datum":-0.25,"type":"quantitative","axis":null},"x2":{"datum":5.25},"y":{"datum":-0.05,"type":"quantitative","axis":null},"y2":{"datum":1.05}}}
]},
{"width":254,"height":152,"view":{"stroke":"black","strokeWidth":3},"data":{"name":"d"},"transform":[{"filter":"datum.prep==='Alcoholic'&&datum.time==='48 hrs'"}],"resolve":{"axis":{"x":"independent","y":"independent"}},"layer":[
{"mark":{"type":"area","interpolate":"monotone","color":"#b4b4b4","opacity":0.7},"encoding":{"x":{"field":"dose","type":"quantitative","scale":{"domain":[-0.25,5.25],"range":[29,248],"nice":false,"zero":false},"axis":{"orient":"bottom","offset":-22,"values":[0,1,2,3,4,5],"grid":false,"domain":false,"tickSize":2.5,"tickColor":"#333333","tickWidth":0.8,"labelFontSize":7,"labelColor":"#4d4d4d","labelPadding":1,"labelFlush":false,"labelOverlap":false,"title":"Dose","titleFontSize":7,"titleFontWeight":"normal","titleColor":"#000000","titlePadding":1}},"y":{"field":"lo","type":"quantitative","scale":{"domain":[-0.05,1.05],"range":[130,10],"nice":false,"zero":false},"axis":{"orient":"left","offset":-29,"values":[0,0.125,0.25,0.375,0.5,0.625,0.75,0.875,1],"grid":true,"gridColor":"#e3e3e3","gridWidth":{"condition":{"test":"(datum.value*8)%2!==0","value":0.5},"value":0.9},"domain":false,"tickSize":2.5,"tickColor":"#333333","tickWidth":0.8,"tickOpacity":{"condition":{"test":"(datum.value*8)%2!==0","value":0},"value":1},"labelExpr":"(datum.value*8)%2===0?format(datum.value,'.2f'):''","labelFontSize":6.5,"labelColor":"#4d4d4d","labelPadding":1,"labelFlush":false,"labelOverlap":false,"title":"(Response/Total)","titleFontSize":5.5,"titleFontWeight":"normal","titleColor":"#000000","titlePadding":2}},"y2":{"field":"hi"}}},
{"mark":{"type":"line","interpolate":"monotone","color":"#3a3a3a","strokeWidth":2.2},"encoding":{"x":{"field":"dose","type":"quantitative","axis":{"orient":"top","values":[0,0.5,1,1.5,2,2.5,3,3.5,4,4.5,5],"grid":true,"gridColor":"#e3e3e3","gridWidth":{"condition":{"test":"datum.value%1!==0","value":0.5},"value":0.9},"domain":false,"ticks":false,"labels":false,"title":null}},"y":{"field":"fit","type":"quantitative","axis":null}}},
{"mark":{"type":"line","interpolate":"natural","color":"#1a1a1a","strokeWidth":1},"encoding":{"x":{"field":"dose","type":"quantitative","axis":null},"y":{"field":"p","type":"quantitative","axis":null}}},
{"mark":{"type":"point","shape":"square","filled":true,"size":9,"color":"#000000","opacity":1},"encoding":{"x":{"field":"dose","type":"quantitative","axis":null},"y":{"field":"p","type":"quantitative","axis":null}}},
{"data":{"values":[{}]},"mark":{"type":"rect","filled":false,"color":"#808080","strokeWidth":1},"encoding":{"x":{"datum":-0.25,"type":"quantitative","axis":null},"x2":{"datum":5.25},"y":{"datum":-0.05,"type":"quantitative","axis":null},"y2":{"datum":1.05}}}
]},
{"width":249,"height":152,"view":{"stroke":"black","strokeWidth":3},"data":{"name":"d"},"transform":[{"filter":"datum.prep==='Alcoholic'&&datum.time==='72 hrs'"}],"resolve":{"axis":{"x":"independent","y":"independent"}},"layer":[
{"mark":{"type":"area","interpolate":"monotone","color":"#b4b4b4","opacity":0.7},"encoding":{"x":{"field":"dose","type":"quantitative","scale":{"domain":[-0.25,5.25],"range":[31,246],"nice":false,"zero":false},"axis":{"orient":"bottom","offset":-22,"values":[0,1,2,3,4,5],"grid":false,"domain":false,"tickSize":2.5,"tickColor":"#333333","tickWidth":0.8,"labelFontSize":7,"labelColor":"#4d4d4d","labelPadding":1,"labelFlush":false,"labelOverlap":false,"title":"Dose","titleFontSize":7,"titleFontWeight":"normal","titleColor":"#000000","titlePadding":1}},"y":{"field":"lo","type":"quantitative","scale":{"domain":[-0.05,1.05],"range":[130,10],"nice":false,"zero":false},"axis":{"orient":"left","offset":-31,"values":[0,0.125,0.25,0.375,0.5,0.625,0.75,0.875,1],"grid":true,"gridColor":"#e3e3e3","gridWidth":{"condition":{"test":"(datum.value*8)%2!==0","value":0.5},"value":0.9},"domain":false,"tickSize":2.5,"tickColor":"#333333","tickWidth":0.8,"tickOpacity":{"condition":{"test":"(datum.value*8)%2!==0","value":0},"value":1},"labelExpr":"(datum.value*8)%2===0?format(datum.value,'.2f'):''","labelFontSize":6.5,"labelColor":"#4d4d4d","labelPadding":1,"labelFlush":false,"labelOverlap":false,"title":"(Response/Total)","titleFontSize":5.5,"titleFontWeight":"normal","titleColor":"#000000","titlePadding":2}},"y2":{"field":"hi"}}},
{"mark":{"type":"line","interpolate":"monotone","color":"#3a3a3a","strokeWidth":2.2},"encoding":{"x":{"field":"dose","type":"quantitative","axis":{"orient":"top","values":[0,0.5,1,1.5,2,2.5,3,3.5,4,4.5,5],"grid":true,"gridColor":"#e3e3e3","gridWidth":{"condition":{"test":"datum.value%1!==0","value":0.5},"value":0.9},"domain":false,"ticks":false,"labels":false,"title":null}},"y":{"field":"fit","type":"quantitative","axis":null}}},
{"mark":{"type":"line","interpolate":"natural","color":"#1a1a1a","strokeWidth":1},"encoding":{"x":{"field":"dose","type":"quantitative","axis":null},"y":{"field":"p","type":"quantitative","axis":null}}},
{"mark":{"type":"point","shape":"square","filled":true,"size":9,"color":"#000000","opacity":1},"encoding":{"x":{"field":"dose","type":"quantitative","axis":null},"y":{"field":"p","type":"quantitative","axis":null}}},
{"data":{"values":[{}]},"mark":{"type":"rect","filled":false,"color":"#808080","strokeWidth":1},"encoding":{"x":{"datum":-0.25,"type":"quantitative","axis":null},"x2":{"datum":5.25},"y":{"datum":-0.05,"type":"quantitative","axis":null},"y2":{"datum":1.05}}}
]},
{"width":253,"height":152,"view":{"stroke":"black","strokeWidth":3},"data":{"name":"d"},"transform":[{"filter":"datum.prep==='Alcoholic'&&datum.time==='96 hrs'"}],"resolve":{"axis":{"x":"independent","y":"independent"}},"layer":[
{"mark":{"type":"area","interpolate":"monotone","color":"#b4b4b4","opacity":0.7},"encoding":{"x":{"field":"dose","type":"quantitative","scale":{"domain":[-0.25,5.25],"range":[37,242],"nice":false,"zero":false},"axis":{"orient":"bottom","offset":-22,"values":[0,1,2,3,4,5],"grid":false,"domain":false,"tickSize":2.5,"tickColor":"#333333","tickWidth":0.8,"labelFontSize":7,"labelColor":"#4d4d4d","labelPadding":1,"labelFlush":false,"labelOverlap":false,"title":"Dose","titleFontSize":7,"titleFontWeight":"normal","titleColor":"#000000","titlePadding":1}},"y":{"field":"lo","type":"quantitative","scale":{"domain":[-0.05,1.05],"range":[130,10],"nice":false,"zero":false},"axis":{"orient":"left","offset":-37,"values":[0,0.125,0.25,0.375,0.5,0.625,0.75,0.875,1],"grid":true,"gridColor":"#e3e3e3","gridWidth":{"condition":{"test":"(datum.value*8)%2!==0","value":0.5},"value":0.9},"domain":false,"tickSize":2.5,"tickColor":"#333333","tickWidth":0.8,"tickOpacity":{"condition":{"test":"(datum.value*8)%2!==0","value":0},"value":1},"labelExpr":"(datum.value*8)%2===0?format(datum.value,'.2f'):''","labelFontSize":6.5,"labelColor":"#4d4d4d","labelPadding":1,"labelFlush":false,"labelOverlap":false,"title":"(Response/Total)","titleFontSize":5.5,"titleFontWeight":"normal","titleColor":"#000000","titlePadding":2}},"y2":{"field":"hi"}}},
{"mark":{"type":"line","interpolate":"monotone","color":"#3a3a3a","strokeWidth":2.2},"encoding":{"x":{"field":"dose","type":"quantitative","axis":{"orient":"top","values":[0,0.5,1,1.5,2,2.5,3,3.5,4,4.5,5],"grid":true,"gridColor":"#e3e3e3","gridWidth":{"condition":{"test":"datum.value%1!==0","value":0.5},"value":0.9},"domain":false,"ticks":false,"labels":false,"title":null}},"y":{"field":"fit","type":"quantitative","axis":null}}},
{"mark":{"type":"line","interpolate":"natural","color":"#1a1a1a","strokeWidth":1},"encoding":{"x":{"field":"dose","type":"quantitative","axis":null},"y":{"field":"p","type":"quantitative","axis":null}}},
{"mark":{"type":"point","shape":"square","filled":true,"size":9,"color":"#000000","opacity":1},"encoding":{"x":{"field":"dose","type":"quantitative","axis":null},"y":{"field":"p","type":"quantitative","axis":null}}},
{"data":{"values":[{}]},"mark":{"type":"rect","filled":false,"color":"#808080","strokeWidth":1},"encoding":{"x":{"datum":-0.25,"type":"quantitative","axis":null},"x2":{"datum":5.25},"y":{"datum":-0.05,"type":"quantitative","axis":null},"y2":{"datum":1.05}}}
]}
],
"config":{"view":{"stroke":null},"font":"Liberation Sans","axis":{"labelFont":"Liberation Sans","titleFont":"Liberation Sans"}}
}
